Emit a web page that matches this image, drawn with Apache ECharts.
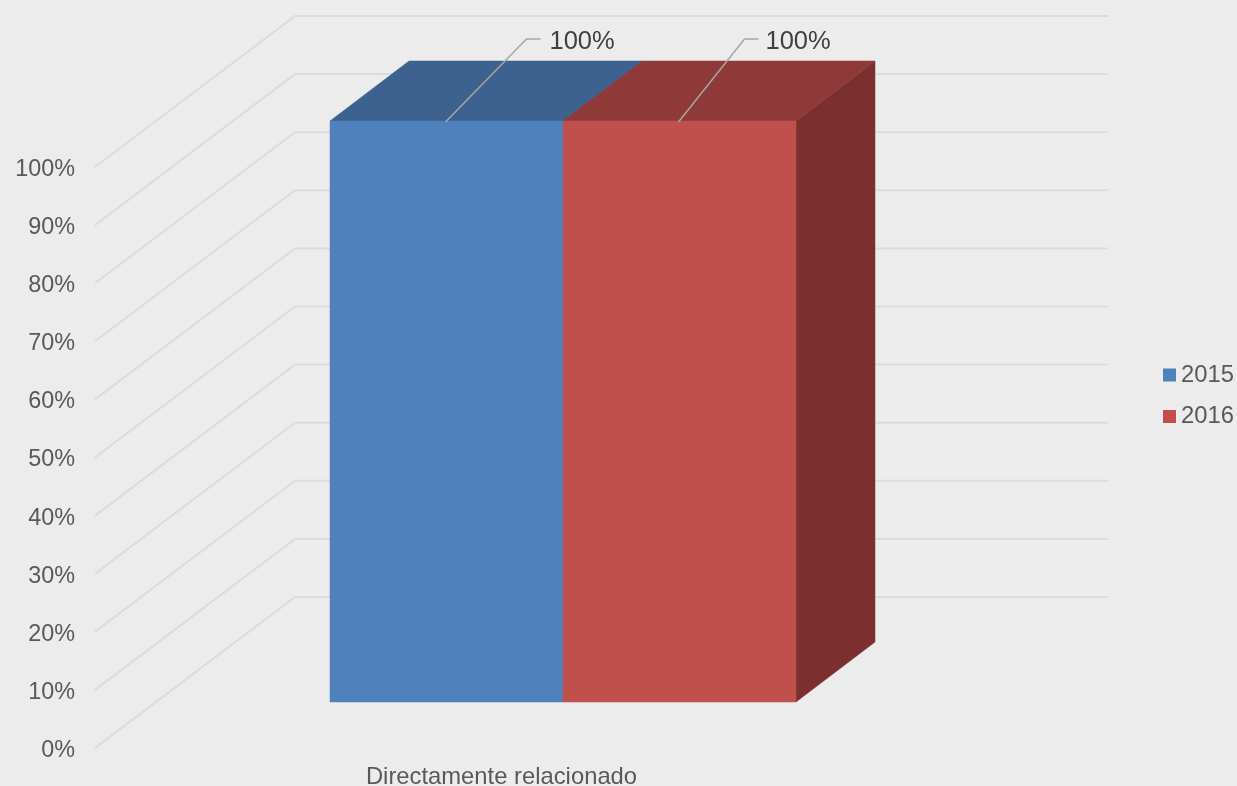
<!DOCTYPE html>
<html>
<head>
<meta charset="utf-8">
<style>html,body{margin:0;padding:0;background:#ececec}#c{width:1237px;height:786px}</style>
<script src="https://cdn.jsdelivr.net/npm/echarts@6/dist/echarts.min.js"></script>
</head>
<body>
<div id="c"></div>
<script>
const categories = ['Directamente relacionado'];
const yTicks = [0, 10, 20, 30, 40, 50, 60, 70, 80, 90, 100];
const seriesNames = ['2015', '2016'];
const values2015 = [100];
const values2016 = [100];

const FONT = '"Liberation Sans", Arial, sans-serif';
const TEXT = '#595959';
const WALL = { dx: 200, dy: -151 };      // depth of the chart box
const SLOT = { dx: 61.5, dy: -46 };      // where the bars stand on the floor
const BAR = { dx: 79, dy: -60, w: 233 }; // depth and width of a bar

function wallRender(params, api) {
  const cs = params.coordSys;
  const p = api.coord([0, api.value(1)]);
  const x0 = cs.x, y = p[1];
  return {
    type: 'polyline',
    shape: { points: [[x0, y], [x0 + WALL.dx, y + WALL.dy], [x0 + cs.width + WALL.dx, y + WALL.dy]] },
    style: { stroke: '#dcdcdc', lineWidth: 2, fill: null }
  };
}

function barRender(seriesIdx, colors, leader) {
  return function (params, api) {
    const top = api.coord([api.value(0), api.value(1)]);
    const base = api.coord([api.value(0), 0]);
    const l = top[0] + SLOT.dx + (seriesIdx === 0 ? -BAR.w : 0);
    const r = l + BAR.w;
    const t = top[1] + SLOT.dy;
    const b = base[1] + SLOT.dy;
    const d = BAR;
    const poly = (pts, fill) => ({ type: 'polygon', shape: { points: pts }, style: { fill: fill, stroke: fill, lineWidth: 0.5 } });
    const c = (l + r) / 2 - 1;
    return {
      type: 'group',
      children: [
        poly([[r, t], [r + d.dx, t + d.dy], [r + d.dx, b + d.dy], [r, b]], colors.side),
        poly([[l, t], [l + d.dx, t + d.dy], [r + d.dx, t + d.dy], [r, t]], colors.top),
        poly([[l, t], [r, t], [r, b], [l, b]], colors.front),
        { type: 'polyline', shape: { points: [[c + leader.x0, t + 1], [c + leader.x1, t - 82], [c + leader.x2, t - 82]] },
          style: { stroke: '#a6a6a6', lineWidth: 1.5, fill: null } },
        { type: 'text', style: { text: api.value(1) + '%', x: c + leader.tx, y: t - 79, fill: '#404040',
            fontSize: 25.5, fontFamily: FONT, textAlign: 'left', textVerticalAlign: 'middle' } }
      ]
    };
  };
}

const chart = echarts.init(document.getElementById('c'), null, { renderer: 'canvas' });
chart.setOption({
  animation: false,
  backgroundColor: '#ececec',
  grid: { left: 95, top: 167, width: 813, height: 581, containLabel: false, outerBoundsMode: 'none' },
  xAxis: {
    type: 'category', data: categories,
    axisLine: { show: false }, axisTick: { show: false }, splitLine: { show: false },
    axisLabel: { color: TEXT, fontSize: 23.8, fontFamily: FONT, margin: 17 }
  },
  yAxis: {
    type: 'value', min: 0, max: 100, interval: 10,
    axisLine: { show: false }, axisTick: { show: false }, splitLine: { show: false },
    axisLabel: { color: TEXT, fontSize: 23.4, fontFamily: FONT, margin: 20, verticalAlign: 'top', lineHeight: 5, formatter: '{value}%' }
  },
  legend: {
    orient: 'vertical', left: 1163, top: 363, padding: 0, itemWidth: 13, itemHeight: 13, itemGap: 17.5, icon: 'rect',
    data: seriesNames, textStyle: { color: TEXT, fontSize: 23.8, fontFamily: FONT, padding: [0, 0, 0, 0] }
  },
  series: [
    { type: 'custom', name: 'walls', silent: true, z: 1, renderItem: wallRender,
      data: yTicks.map(v => [0, v]), encode: { x: 0, y: 1 } },
    { type: 'custom', name: seriesNames[0], z: 2, itemStyle: { color: '#4f81bd' },
      renderItem: barRender(0, { front: '#4f81bd', top: '#3e628f', side: '#3e628f' }, { x0: 0, x1: 81, x2: 95, tx: 104 }),
      data: values2015.map((v, i) => [i, v]), encode: { x: 0, y: 1 } },
    { type: 'custom', name: seriesNames[1], z: 3, itemStyle: { color: '#c0504d' },
      renderItem: barRender(1, { front: '#c0504d', top: '#8f3a39', side: '#7b302f' }, { x0: 0, x1: 66, x2: 80, tx: 87 }),
      data: values2016.map((v, i) => [i, v]), encode: { x: 0, y: 1 } }
  ]
});
</script>
</body>
</html>
